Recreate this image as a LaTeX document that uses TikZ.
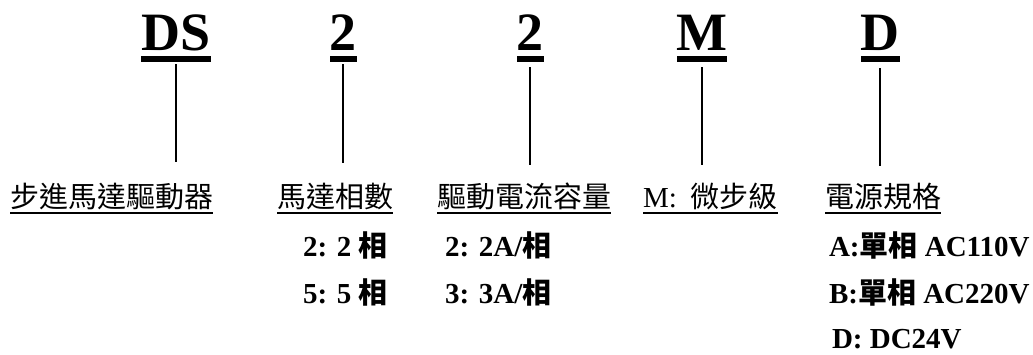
\documentclass[tikz,border=0pt]{standalone}
\usepackage{fontspec}
\setmainfont{Liberation Serif}
\newfontfamily\cjk{Noto Sans CJK TC}
\begin{document}
\begin{tikzpicture}[x=1pt,y=-1pt,
  topcode/.style={anchor=base,inner sep=0pt,outer sep=0pt,font=\fontsize{54}{60}\selectfont\bfseries},
  lbl/.style={anchor=base west,inner sep=0pt,outer sep=0pt,font=\fontsize{29}{34}\selectfont},
  opt/.style={anchor=base west,inner sep=0pt,outer sep=0pt,font=\fontsize{29}{34}\selectfont\bfseries},
  conn/.style={line width=1.3pt,black},
  ul/.style={line width=1.8pt,black}]
\useasboundingbox (0,0) rectangle (1033,354);
% top code letters
\node[topcode] (t1) at (176,50) {DS};
\node[topcode] (t2) at (343,50) {2};
\node[topcode] (t3) at (530,50) {2};
\node[topcode] (t4) at (702,50) {M};
\node[topcode] (t5) at (880,50) {D};
\foreach \n in {t1,t2,t3,t4,t5}{
  \fill ([yshift=-6pt]\n.base west) rectangle ([yshift=-12pt]\n.base east);
}
% line ends
\coordinate (b1) at (176,162);
\coordinate (b2) at (343,163);
\coordinate (b3) at (530,165);
\coordinate (b4) at (702,165);
\coordinate (b5) at (880,166);
\draw[conn] ([yshift=-14pt]t1.base) -- (b1);
\draw[conn] ([yshift=-14pt]t2.base) -- (b2);
\draw[conn] ([yshift=-17pt]t3.base) -- (b3);
\draw[conn] ([yshift=-17pt]t4.base) -- (b4);
\draw[conn] ([yshift=-18pt]t5.base) -- (b5);
% labels
\node[lbl] (l1) at (10,207) {\cjk 步進馬達驅動器};
\node[lbl] (l2) at (277,207) {\cjk 馬達相數};
\node[lbl] (l3) at (437,207) {\cjk 驅動電流容量};
\node[lbl] (l4) at (643,207) {M:\hspace{14pt}{\cjk 微步級}};
\node[lbl] (l5) at (825,207) {\cjk 電源規格};
\foreach \n in {l1,l2,l3,l4,l5}{
  \draw[ul] ([yshift=-6pt]\n.base west) -- ([yshift=-6pt]\n.base east);
}
% options
\node[opt] (o21) at (303,256) {2: 2 {\cjk\bfseries 相}};
\node[opt] (o22) at (303,303) {5: 5 {\cjk\bfseries 相}};
\node[opt] (o31) at (445,256) {2: 2A/{\cjk\bfseries 相}};
\node[opt] (o32) at (445,303) {3: 3A/{\cjk\bfseries 相}};
\node[opt] (o51) at (829,256) {A:{\cjk\bfseries 單相} AC110V};
\node[opt] (o52) at (829,303) {B:{\cjk\bfseries 單相} AC220V};
\node[opt] (o53) at (832,348) {D: DC24V};
\end{tikzpicture}
\end{document}
